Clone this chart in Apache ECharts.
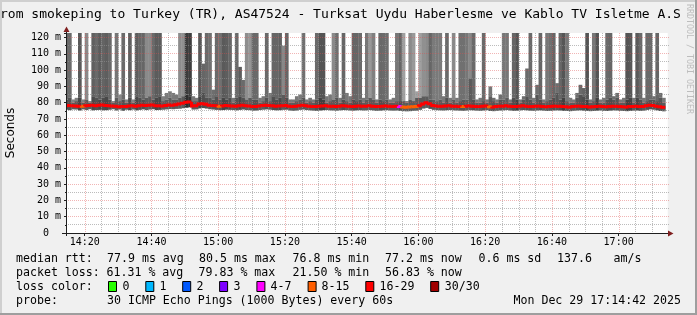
<!DOCTYPE html>
<html><head><meta charset="utf-8">
<script src="https://cdn.jsdelivr.net/npm/echarts@6/dist/echarts.min.js"></script>
<style>html,body{margin:0;padding:0;background:#f0f0f0;overflow:hidden}#c{width:697px;height:315px}</style>
</head><body><div id="c"></div>
<script>
// ---------------- data ----------------
const X_MIN = 854.7;   // 14:14:42 (minutes since midnight)
const X_MAX = 1034.7;  // 17:14:42
const FIRST_BIN_END = 855; // one bin per minute (60 s step)
const xTickValues = [860, 880, 900, 920, 940, 960, 980, 1000, 1020];
const xTickLabels = ['14:20','14:40','15:00','15:20','15:40','16:00','16:20','16:40','17:00'];
const yTickValues = [0,10,20,30,40,50,60,70,80,90,100,110,120];

// median RTT per minute (ms)
const medianRtt = [
78.2,78.3,78.1,78.0,77.9,77.8,78.2,78.3,78.4,78.2,
78.5,78.6,78.3,78.2,78.0,77.8,77.5,77.6,77.7,78.0,
78.1,77.8,78.2,78.4,78.3,78.5,78.6,78.2,78.1,78.0,
78.3,78.6,78.5,78.8,79.2,79.6,80.3,80.5,78.0,78.2,
79.2,79.4,79.0,78.5,78.3,78.1,77.9,78.0,78.3,78.2,
78.0,77.8,78.2,78.4,78.1,78.0,77.6,77.7,78.0,78.3,
78.5,78.3,78.1,77.9,78.0,78.2,78.3,77.8,77.6,77.8,
78.2,78.4,78.1,77.9,77.7,77.6,77.8,78.0,78.1,77.9,
77.8,77.7,77.9,78.1,78.0,77.8,77.7,77.9,78.0,77.8,
77.9,78.1,77.8,77.6,77.7,77.9,78.0,77.8,77.7,77.8,
77.6,77.3,77.2,77.3,77.5,77.6,78.2,79.2,80.0,79.4,
78.3,78.0,77.9,77.8,78.0,78.1,77.9,77.8,77.7,77.6,
77.8,78.0,77.9,77.7,77.6,77.8,78.0,77.5,77.4,77.6,
77.8,77.9,78.1,77.8,77.6,77.7,77.9,78.1,77.9,77.7,
77.6,77.8,77.9,77.7,77.5,77.6,77.8,77.9,77.8,77.6,
77.5,77.4,77.6,77.8,77.9,77.7,77.6,77.4,77.5,77.7,
77.8,77.6,77.5,77.7,77.9,77.8,77.6,77.5,77.4,77.6,
77.7,77.8,77.6,77.7,78.2,78.5,78.3,77.9,77.5,77.2];

// lost pings out of 30 per minute
const lostPings = [
18,19,17,18,20,13,19,17,20,21, 20,19,21,20,17,19,18,20,17,20,
17,21,20,19,20,21,20,22,21,18, 17,18,17,18,20,21,22,23,17,18,
21,19,20,20,18,20,13,21,20,20, 17,20,19,19,21,20,20,21,17,18,
20,18,20,19,21,19,20,17,17,18, 18,20,17,17,18,20,21,21,17,18,
20,20,17,20,18,17,20,21,20,17, 20,20,19,17,20,19,20,17,18,20,
6,13,14,12,13,14,20,21,20,20, 21,20,20,17,20,17,20,17,20,13,
20,20,20,17,17,20,17,14,18,17, 18,20,20,17,20,21,17,18,19,20,
17,19,20,17,20,20,20,19,20,21, 20,17,17,18,19,19,21,17,20,21,
17,17,20,20,18,18,17,17,21,21, 17,20,20,17,20,20,18,20,18,17];

// smoke: lowest ping, top of dense band, highest ping (ms), grey level of the smoke
const smokeLow = [
75.6,75.4,75.9,75.8,75.2,75.9,75.5,76.0,75.3,75.5, 75.6,75.3,75.4,75.7,76.0,75.2,75.8,75.0,75.7,75.4,
75.8,75.3,75.6,75.9,75.5,75.8,76.0,75.5,75.6,75.7, 75.9,76.1,76.0,76.2,76.3,76.6,76.9,77.2,75.8,75.9,
76.5,76.7,76.4,76.0,75.8,75.6,75.4,75.5,75.7,75.6, 75.5,75.3,75.6,75.8,75.5,75.4,75.1,75.2,75.5,75.7,
75.9,75.7,75.5,75.3,75.4,75.6,75.7,75.2,75.0,75.2, 75.6,75.8,75.5,75.3,75.1,75.0,75.2,75.4,75.5,75.3,
75.2,75.1,75.3,75.5,75.4,75.2,75.1,75.3,75.4,75.2, 75.3,75.5,75.2,75.0,75.1,75.3,75.4,75.2,75.1,75.2,
75.0,74.8,74.7,74.8,75.0,75.1,75.6,76.4,76.8,76.2, 75.6,75.4,75.3,75.2,75.4,75.5,75.3,75.2,75.1,75.0,
75.2,75.4,75.3,75.1,75.0,75.2,75.4,74.9,74.8,75.0, 75.2,75.3,75.5,75.2,75.0,75.1,75.3,75.5,75.3,75.1,
75.0,75.2,75.3,75.1,74.9,75.0,75.2,75.3,75.2,75.0, 74.9,74.8,75.0,75.2,75.3,75.1,75.0,74.8,74.9,75.1,
75.2,75.0,74.9,75.1,75.3,75.2,75.0,74.9,74.8,75.0, 75.1,75.2,75.0,75.1,75.6,75.9,75.7,75.3,74.9,74.7];
const smokeMid = [
82,83,80,81,83,80,82,80,84,83, 82,83,84,82,80,83,81,82,80,83,
80,84,83,82,83,84,82,83,84,81, 82,83,82,82,83,84,85,84,81,81,
84,86,83,83,82,84,82,83,82,83, 80,83,84,83,82,83,82,82,80,81,
83,81,84,82,83,85,83,80,80,81, 82,83,80,81,80,82,83,82,80,81,
82,83,80,82,81,80,82,81,82,80, 82,83,82,80,82,81,82,80,80,81,
81,81,80,82,81,83,83,84,84,82, 82,81,82,80,83,80,82,80,81,82,
82,95,82,80,80,81,80,84,81,80, 82,82,83,80,83,82,80,82,84,82,
80,85,82,80,81,82,83,86,82,83, 81,80,80,83,85,84,82,80,81,83,
80,80,82,83,82,83,80,80,82,83, 80,83,82,80,81,82,82,81,83,80];
const smokeHigh = [
125,125,82,83,125,82,125,81,125,125, 125,125,125,125,81,125,85,125,82,125,
82,125,125,125,125,125,125,125,125,84, 86,87,86,85,125,125,125,125,84,83,
125,104,125,125,88,125,125,125,125,125, 83,125,102,94,125,125,125,125,83,84,
125,86,125,125,125,115,125,82,82,84, 85,125,82,83,82,125,125,125,84,85,
125,125,83,125,86,84,125,125,125,83, 125,125,125,82,125,125,125,82,83,125,
125,125,81,125,125,87,125,125,125,125, 125,125,125,84,125,83,125,83,125,125,
125,125,125,82,83,125,82,90,83,82, 85,125,125,82,125,125,82,84,101,125,
83,91,125,82,125,125,125,92,125,125, 125,83,82,86,91,89,125,82,125,125,
82,83,125,125,84,86,82,83,125,125, 83,125,125,83,125,125,84,125,86,83];
const smokeGrey = [
104,106,130,128,90,130,138,130,96,106, 92,100,94,104,130,118,136,106,130,96,
130,94,102,102,138,138,106,92,92,128, 122,122,122,120,140,144,60,62,120,120,
88,102,106,112,110,106,112,90,94,102, 120,106,92,106,142,150,106,106,120,120,
106,120,102,102,96,136,102,120,120,120, 122,112,120,120,120,106,85,85,120,120,
138,112,120,102,120,120,102,102,106,120, 119,153,128,120,104,106,110,120,120,119,
102,160,120,138,153,160,160,144,138,102, 122,122,122,120,106,120,136,120,112,112,
119,136,106,120,120,106,120,119,110,120, 110,119,119,120,102,85,120,110,106,106,
120,110,102,120,119,112,102,110,102,85, 119,120,120,110,106,100,85,120,119,85,
120,120,106,102,110,110,120,120,85,88, 120,90,106,120,106,106,110,102,110,120];

const lossColors = ['#26ff00','#00b8ff','#0059ff','#7e00ff','#ff00ff','#ff5e00','#ff0000','#a10000'];
const lossLabels = ['0','1','2','3','4-7','8-15','16-29','30/30'];

const TITLE = 'rom smokeping to Turkey (TR), AS47524 - Turksat Uydu Haberlesme ve Kablo TV Isletme A.S';
const statsRtt = [['median rtt:',16],['77.9 ms avg',107],['80.5 ms max',199],['76.8 ms min',292.5],['77.2 ms now',385],['0.6 ms sd',478.5],['137.6',557],['am/s',613.5]];
const statsLoss = [['packet loss:',16],['61.31 % avg',106.5],['79.83 % max',198.5],['21.50 % min',292.5],['56.83 % now',385]];
const probeText = '30 ICMP Echo Pings (1000 Bytes) every 60s';
const stampText = 'Mon Dec 29 17:14:42 2025';

// ---------------- layout ----------------
const Y_MAX = 122.8;
const G_LEFT = 67, G_TOP = 33, G_RIGHT = 29.3, G_BOTTOM = 82;
const MONO = '"DejaVu Sans Mono", monospace';
const GRID_MINOR = 'rgba(143,143,143,0.6)';
const GRID_MAJOR = 'rgba(222,79,79,0.42)';

function lossBucket(n){ if(n<=3) return n; if(n<=7) return 4; if(n<=15) return 5; if(n<=29) return 6; return 7; }

const smokeData = [], medianData = [];
for (let i = 0; i < medianRtt.length; i++) {
  const t = FIRST_BIN_END + i;
  smokeData.push([t, smokeLow[i], smokeMid[i], smokeHigh[i], smokeGrey[i]]);
  medianData.push([t, medianRtt[i], i > 0 ? medianRtt[i-1] : medianRtt[i], lostPings[i]]);
}
// grid positions (axis values): vertical every 5 min, horizontal every 5 ms
const vGrid = [], hGrid = [];
for (let v = 860; v < X_MAX; v += 5) vGrid.push(v);
for (let v = 5; v <= 120; v += 5) hGrid.push(v);

function renderSmoke(params, api) {
  const t = api.value(0);
  const x0 = Math.max(t - 1, X_MIN);
  const hi = Math.min(api.value(3), Y_MAX);
  const mid = Math.min(api.value(2), hi);
  const pLow = api.coord([x0, api.value(1)]);
  const pMid = api.coord([t, mid]);
  const pTop = api.coord([t, hi]);
  const s = api.value(4);
  const d = Math.round(Math.min(s, 118) * 0.77);
  const w = pMid[0] - pLow[0] + 0.35;
  return {type: 'group', children: [
    {type: 'rect', shape: {x: pLow[0], y: pTop[1], width: w, height: pMid[1] - pTop[1]}, style: {fill: 'rgb(' + s + ',' + s + ',' + s + ')'}},
    {type: 'rect', shape: {x: pLow[0], y: pMid[1], width: w, height: pLow[1] - pMid[1]}, style: {fill: 'rgb(' + d + ',' + d + ',' + d + ')'}}
  ]};
}
function renderMedian(params, api) {
  const t = api.value(0);
  const x0 = Math.max(t - 1, X_MIN);
  const a = api.coord([x0, api.value(2)]);
  const b = api.coord([x0, api.value(1)]);
  const c = api.coord([t, api.value(1)]);
  return {type: 'polyline', shape: {points: [a, b, c]},
    style: {stroke: lossColors[lossBucket(api.value(3))], lineWidth: 3, fill: null, lineJoin: 'miter', lineCap: 'butt'}};
}
// dotted grid: one dot every 2 px, drawn as 1x1 rects so it stays crisp
function dottedChildren(x1, y1, x2, y2, color) {
  const out = [];
  if (x1 === x2) {
    for (let y = Math.round(y2); y <= Math.round(y1); y += 2) out.push({type: 'rect', shape: {x: x1, y: y, width: 1, height: 1}, style: {fill: color}});
  } else {
    for (let x = Math.round(x1) + 1; x <= Math.round(x2); x += 2) out.push({type: 'rect', shape: {x: x, y: y1, width: 1, height: 1}, style: {fill: color}});
  }
  return out;
}
function renderGridV(params, api) {
  const v = api.value(0);
  const p0 = api.coord([v, 0]), p1 = api.coord([v, Y_MAX]);
  const x = Math.round(p0[0]);
  const color = xTickValues.includes(v) ? GRID_MAJOR : GRID_MINOR;
  return {type: 'group', children: dottedChildren(x, Math.round(p0[1]) - 1, x, p1[1], color)};
}
function renderGridH(params, api) {
  const v = api.value(1);
  const p0 = api.coord([X_MIN, v]), p1 = api.coord([X_MAX, v]);
  const y = Math.floor(p0[1]);
  const color = (v % 10 === 0) ? GRID_MAJOR : GRID_MINOR;
  return {type: 'group', children: dottedChildren(p0[0], y, p1[0], y, color)};
}

function fmtMin(v) {
  const idx = xTickValues.indexOf(v);
  return idx >= 0 ? xTickLabels[idx] : '';
}

const graphics = [
  {type: 'rect', z: 100, shape: {x: 0, y: 0, width: 697, height: 2}, style: {fill: '#cfcfcf'}},
  {type: 'rect', z: 100, shape: {x: 0, y: 0, width: 2, height: 315}, style: {fill: '#cfcfcf'}},
  {type: 'rect', z: 100, shape: {x: 695, y: 0, width: 2, height: 315}, style: {fill: '#9e9e9e'}},
  {type: 'rect', z: 100, shape: {x: 0, y: 313, width: 697, height: 2}, style: {fill: '#9e9e9e'}},
  {type: 'line', z: 100, shape: {x1: 66.5, y1: 236, x2: 66.5, y2: 31}, style: {stroke: '#1f1f1f', lineWidth: 1}},
  {type: 'line', z: 100, shape: {x1: 62, y1: 233.5, x2: 669, y2: 233.5}, style: {stroke: '#1f1f1f', lineWidth: 1}},
  {type: 'polygon', z: 100, shape: {points: [[63.5, 32], [69.5, 32], [66.5, 26.5]]}, style: {fill: '#7f1f1f'}},
  {type: 'polygon', z: 100, shape: {points: [[668, 230.5], [668, 236.5], [673.5, 233.5]]}, style: {fill: '#7f1f1f'}},
  {type: 'text', z: 100, x: 0, y: 14.5, style: {text: TITLE, font: '13px ' + MONO, fill: '#000', verticalAlign: 'middle'}},
  {type: 'text', z: 100, x: 689, y: 59, rotation: -Math.PI / 2, style: {text: 'RRDTOOL / TOBI OETIKER', font: '8.3px ' + MONO, fill: '#bdbdbd', align: 'center', verticalAlign: 'middle'}},
  {type: 'text', z: 100, x: 11, y: 133, rotation: Math.PI / 2, style: {text: 'Seconds', font: '12px "DejaVu Sans", sans-serif', fill: '#000', align: 'center', verticalAlign: 'middle'}}
];
statsRtt.forEach(function (s) { graphics.push({type: 'text', z: 100, x: s[1], y: 259, style: {text: s[0], font: '11.6px ' + MONO, fill: '#000', verticalAlign: 'middle'}}); });
statsLoss.forEach(function (s) { graphics.push({type: 'text', z: 100, x: s[1], y: 273, style: {text: s[0], font: '11.6px ' + MONO, fill: '#000', verticalAlign: 'middle'}}); });
graphics.push({type: 'text', z: 100, x: 16, y: 287, style: {text: 'loss color:', font: '11.6px ' + MONO, fill: '#000', verticalAlign: 'middle'}});
const boxX = [108, 145.3, 182.2, 219.1, 256.4, 307.6, 365.3, 430.2];
const boxLabelX = [122.5, 159.5, 196.5, 233.5, 270.5, 321.5, 379.5, 444.8];
lossColors.forEach(function (c, i) {
  graphics.push({type: 'rect', z: 100, shape: {x: boxX[i] + 0.5, y: 281.5, width: 8, height: 10}, style: {fill: c, stroke: '#000', lineWidth: 1}});
  graphics.push({type: 'text', z: 100, x: boxLabelX[i], y: 287, style: {text: lossLabels[i], font: '11.6px ' + MONO, fill: '#000', verticalAlign: 'middle'}});
});
graphics.push({type: 'text', z: 100, x: 16, y: 301, style: {text: 'probe:', font: '11.6px ' + MONO, fill: '#000', verticalAlign: 'middle'}});
graphics.push({type: 'text', z: 100, x: 107, y: 301, style: {text: probeText, font: '11.6px ' + MONO, fill: '#000', verticalAlign: 'middle'}});
graphics.push({type: 'text', z: 100, x: 681, y: 301, style: {text: stampText, font: '11.6px ' + MONO, fill: '#000', align: 'right', verticalAlign: 'middle'}});

const chart = echarts.init(document.getElementById('c'), null, {renderer: 'canvas'});
chart.setOption({
  animation: false,
  backgroundColor: '#f0f0f0',
  grid: {left: G_LEFT, right: G_RIGHT, top: G_TOP, bottom: G_BOTTOM, show: true, backgroundColor: '#ffffff', borderWidth: 0},
  xAxis: {
    type: 'value', min: X_MIN, max: X_MAX,
    axisLine: {show: false},
    splitLine: {show: false},
    axisTick: {show: true, customValues: xTickValues, length: 3, lineStyle: {color: '#1f1f1f'}},
    axisLabel: {customValues: xTickValues, formatter: fmtMin, fontFamily: 'DejaVu Sans Mono', fontSize: 10, color: '#000', margin: 4}
  },
  yAxis: {
    type: 'value', min: 0, max: Y_MAX, interval: 10,
    axisLine: {show: false},
    splitLine: {show: false},
    axisTick: {show: true, length: 3, lineStyle: {color: '#1f1f1f'}},
    minorTick: {show: true, splitNumber: 2, length: 2, lineStyle: {color: '#1f1f1f'}},
    axisLabel: {showMaxLabel: false, fontFamily: 'DejaVu Sans Mono', fontSize: 10, color: '#000', margin: 6,
      formatter: function (v) { if (!yTickValues.includes(v)) return ''; return v === 0 ? '0  ' : v + ' m'; }}
  },
  series: [
    {type: 'custom', name: 'smoke', renderItem: renderSmoke, data: smokeData, z: 2, silent: true},
    {type: 'custom', name: 'vgrid', renderItem: renderGridV, data: vGrid.map(function (v) { return [v, 0]; }), z: 3, silent: true},
    {type: 'custom', name: 'hgrid', renderItem: renderGridH, data: hGrid.map(function (v) { return [X_MIN, v]; }), z: 3, silent: true},
    {type: 'custom', name: 'median', renderItem: renderMedian, data: medianData, z: 4, silent: true}
  ],
  graphic: graphics
});
</script></body></html>
